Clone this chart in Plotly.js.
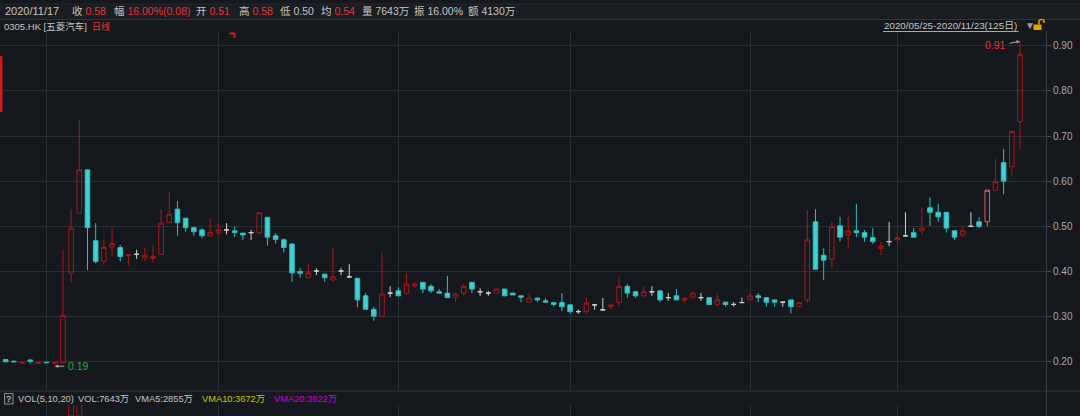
<!DOCTYPE html>
<html><head><meta charset="utf-8">
<script src="https://cdn.plot.ly/plotly-3.0.1.min.js"></script>
<style>html,body{margin:0;padding:0;background:#15181d;}#chart{width:1080px;height:416px;}</style>
</head><body><div id="chart"></div>
<script>
// ---- data (daily OHLC, 0305.HK, 2020/05/25 - 2020/11/23, 125 trading days) ----
const openP = [0.205,0.201,0.197,0.204,0.197,0.199,0.197,0.198,0.396,0.529,
0.625,0.468,0.423,0.454,0.453,0.435,0.438,0.430,0.429,0.438,
0.508,0.538,0.518,0.497,0.492,0.479,0.485,0.492,0.490,0.485,
0.486,0.486,0.520,0.479,0.470,0.461,0.400,0.386,0.401,0.394,
0.381,0.401,0.388,0.385,0.346,0.316,0.301,0.352,0.357,0.352,
0.368,0.376,0.367,0.355,0.352,0.343,0.352,0.376,0.355,0.352,
0.352,0.361,0.352,0.346,0.332,0.341,0.335,0.331,0.331,0.326,
0.311,0.311,0.326,0.315,0.322,0.331,0.367,0.355,0.346,0.355,
0.357,0.342,0.346,0.337,0.343,0.342,0.342,0.327,0.332,0.327,
0.331,0.337,0.346,0.342,0.337,0.332,0.337,0.322,0.337,0.510,
0.436,0.427,0.501,0.481,0.490,0.486,0.475,0.451,0.466,0.470,
0.479,0.486,0.490,0.541,0.531,0.531,0.490,0.481,0.500,0.510,
0.510,0.580,0.641,0.632,0.732];
const highP = [0.205,0.203,0.198,0.205,0.198,0.199,0.198,0.447,0.538,0.735,
0.625,0.507,0.470,0.497,0.459,0.438,0.448,0.453,0.459,0.538,
0.577,0.556,0.518,0.497,0.496,0.518,0.507,0.507,0.499,0.485,
0.492,0.532,0.520,0.485,0.473,0.461,0.408,0.417,0.407,0.394,
0.452,0.408,0.416,0.385,0.352,0.322,0.442,0.367,0.365,0.396,
0.377,0.376,0.372,0.361,0.390,0.352,0.372,0.376,0.363,0.357,
0.361,0.361,0.352,0.346,0.352,0.341,0.341,0.331,0.352,0.326,
0.316,0.342,0.327,0.341,0.326,0.391,0.372,0.355,0.367,0.367,
0.357,0.352,0.361,0.341,0.352,0.352,0.342,0.352,0.332,0.332,
0.342,0.352,0.352,0.342,0.337,0.332,0.337,0.331,0.536,0.538,
0.451,0.510,0.521,0.521,0.550,0.492,0.496,0.466,0.510,0.488,
0.531,0.496,0.541,0.564,0.550,0.531,0.490,0.499,0.531,0.520,
0.580,0.649,0.671,0.710,0.910];
const lowP = [0.200,0.198,0.195,0.196,0.195,0.198,0.190,0.195,0.375,0.529,
0.403,0.418,0.414,0.433,0.422,0.414,0.428,0.423,0.419,0.438,
0.508,0.479,0.488,0.479,0.473,0.477,0.482,0.482,0.476,0.470,
0.470,0.482,0.457,0.462,0.442,0.377,0.386,0.386,0.392,0.377,
0.377,0.392,0.386,0.321,0.316,0.291,0.301,0.343,0.346,0.348,
0.363,0.352,0.352,0.352,0.342,0.332,0.346,0.352,0.346,0.346,
0.352,0.346,0.348,0.332,0.332,0.332,0.332,0.322,0.312,0.307,
0.306,0.307,0.315,0.313,0.316,0.322,0.342,0.342,0.342,0.346,
0.332,0.335,0.337,0.331,0.343,0.335,0.327,0.322,0.322,0.322,
0.331,0.337,0.332,0.322,0.322,0.322,0.307,0.322,0.331,0.405,
0.381,0.407,0.466,0.451,0.476,0.466,0.461,0.436,0.456,0.470,
0.477,0.476,0.481,0.501,0.510,0.486,0.470,0.476,0.500,0.496,
0.500,0.580,0.571,0.610,0.671];
const closeP = [0.200,0.200,0.198,0.201,0.198,0.198,0.198,0.303,0.496,0.625,
0.497,0.422,0.453,0.462,0.433,0.437,0.438,0.436,0.433,0.507,
0.527,0.508,0.497,0.488,0.479,0.486,0.492,0.492,0.486,0.481,
0.486,0.530,0.476,0.471,0.453,0.397,0.396,0.397,0.401,0.386,
0.388,0.401,0.388,0.337,0.316,0.301,0.350,0.352,0.346,0.372,
0.372,0.361,0.357,0.352,0.342,0.350,0.367,0.361,0.355,0.352,
0.361,0.346,0.348,0.343,0.341,0.337,0.332,0.327,0.322,0.311,
0.311,0.330,0.326,0.315,0.326,0.367,0.352,0.346,0.355,0.355,
0.337,0.342,0.337,0.341,0.352,0.342,0.327,0.337,0.327,0.327,
0.331,0.346,0.342,0.332,0.332,0.332,0.322,0.331,0.470,0.405,
0.425,0.499,0.476,0.490,0.486,0.476,0.466,0.456,0.466,0.475,
0.479,0.476,0.496,0.531,0.521,0.496,0.476,0.490,0.500,0.500,
0.580,0.599,0.600,0.710,0.880];
const selectedIndex = 120;
const monthStarts = [5, 26, 48, 69, 91, 109];
const priceTicks = [0.2, 0.3, 0.4, 0.5, 0.6, 0.7, 0.8, 0.9];
const priceTickText = ['0.20','0.30','0.40','0.50','0.60','0.70','0.80','0.90'];
const volDays = [8, 9];
const volValues = [52000, 47000];
const lowMarkIndex = 6, lowMarkValue = 0.19, lowMarkText = '0.19';
const highMarkIndex = 124, highMarkValue = 0.91, highMarkText = '0.91';
const headerDate = '2020/11/17';
const headerLabels = ['收','幅','开','高','低','均','量','振','额'];
const headerValues = ['0.58','16.00%(0.08)','0.51','0.58','0.50','0.54','7643万','16.00%','4130万'];
const headerRed = [true,true,true,true,false,true,false,false,false];
const stockName = '0305.HK [五菱汽车]';
const periodName = '日线';
const dateRange = '2020/05/25-2020/11/23(125日)';
const volLabels = ['VOL(5,10,20)','VOL:7643万','VMA5:2855万','VMA10:3672万','VMA20:3822万'];

// ---- geometry helpers ----
const W = 1080, H = 416, PW = 1046;
const px = x => x / PW;
const py = y => (H - y) / H;
const FONT = 'Liberation Sans, Arial, Noto Sans CJK SC, sans-serif';
const GRAY = '#c4c4c4', RED = '#e83434', BG = '#15181d', GRID = '#2a2e35';

// ---- group candles ----
function group(pred) {
  const g = {x: [], open: [], high: [], low: [], close: []};
  openP.forEach((o, i) => {
    if (!pred(i)) return;
    g.x.push(i); g.open.push(o); g.high.push(highP[i]); g.low.push(lowP[i]); g.close.push(closeP[i]);
  });
  return g;
}
const upG = group(i => i !== selectedIndex && closeP[i] > openP[i]);
const dnG = group(i => i !== selectedIndex && closeP[i] < openP[i]);
const djG = group(i => i !== selectedIndex && closeP[i] === openP[i]);
const selG = group(i => i === selectedIndex);

function candle(g, lineCol, fillCol) {
  return Object.assign({
    type: 'candlestick', xaxis: 'x', yaxis: 'y', hoverinfo: 'skip', whiskerwidth: 0,
    increasing: {line: {color: lineCol, width: 1}, fillcolor: fillCol},
    decreasing: {line: {color: lineCol, width: 1}, fillcolor: fillCol},
    showlegend: false
  }, g);
}
const traces = [
  candle(upG, '#a81818', 'rgba(0,0,0,0)'),
  candle(dnG, '#33bcbc', '#40d2d2'),
  candle(djG, '#cfcfcf', '#cfcfcf'),
  candle(selG, '#e46464', 'rgba(0,0,0,0)'),
  {type: 'bar', x: volDays, y: volValues, xaxis: 'x2', yaxis: 'y2', width: 0.6,
   marker: {color: 'rgba(0,0,0,0)', line: {color: '#a81818', width: 1}}, hoverinfo: 'skip', showlegend: false}
];

// ---- annotations ----
const ann = [];
function txt(x, y, text, color, size, anchor) {
  ann.push({xref: 'paper', yref: 'paper', x: px(x), y: py(y), text: text, showarrow: false,
    xanchor: anchor || 'left', yanchor: 'middle', font: {family: FONT, size: size, color: color}});
}
txt(3, 11.5, headerDate, GRAY, 11);
const headerX = [70, 111.5, 194, 236.5, 277.5, 319, 359.5, 412, 466];
headerLabels.forEach((l, k) => {
  const v = headerRed[k] ? '<span style="color:' + RED + '">' + headerValues[k] + '</span>' : headerValues[k];
  txt(headerX[k], 11.5, l + ' ' + v, GRAY, 10.5);
});
txt(2, 27, stockName, GRAY, 9.5);
txt(90, 27, periodName, RED, 9);
txt(1018.5, 25, dateRange, GRAY, 9.8, 'right');
txt(1022.5, 25, '▼', '#9a9a9a', 10);
const volX = [16, 75.5, 133, 199.5, 271.5];
const volCol = [GRAY, GRAY, GRAY, '#c8c800', '#d400d4'];
volLabels.forEach((l, k) => txt(volX[k], 398.5, l, volCol[k], 9.3));
txt(8.6, 398.5, '?', '#e0e0e0', 9, 'center');
// high / low markers
ann.push({xref: 'x', yref: 'y', x: highMarkIndex, y: highMarkValue, ax: -12, ay: 2.5, text: '',
  showarrow: true, arrowhead: 2, arrowsize: 0.7, arrowwidth: 1, arrowcolor: '#a8a8a8', standoff: 0});
txt(1007.5, 45, highMarkText, RED, 10.5, 'right');
ann.push({xref: 'x', yref: 'y', x: lowMarkIndex, y: lowMarkValue, ax: 11, ay: 0, text: '',
  showarrow: true, arrowhead: 2, arrowsize: 0.7, arrowwidth: 1, arrowcolor: '#a8a8a8', standoff: 0});
txt(66, 366, lowMarkText, '#25a83c', 10.5);

// ---- shapes ----
const shapes = [
  {type: 'rect', xref: 'paper', yref: 'paper', x0: 0, x1: px(W), y0: py(19.5), y1: py(4), fillcolor: '#1a1d22', line: {width: 0}, layer: 'below'},
  {type: 'line', xref: 'paper', yref: 'paper', x0: 0, x1: px(W), y0: py(19.5), y1: py(19.5), line: {color: '#30343b', width: 1}},
  {type: 'line', xref: 'paper', yref: 'paper', x0: 0, x1: px(W), y0: py(4), y1: py(4), line: {color: '#24272d', width: 1}},
  {type: 'line', xref: 'paper', yref: 'paper', x0: 0, x1: px(W), y0: py(391), y1: py(391), line: {color: '#30343b', width: 1}},
  {type: 'line', xref: 'paper', yref: 'paper', x0: px(1046.5), x1: px(1046.5), y0: py(31), y1: py(416), line: {color: '#3a3e45', width: 1}},
  {type: 'rect', xref: 'paper', yref: 'paper', x0: 0, x1: px(2.5), y0: py(112), y1: py(56), fillcolor: '#cc1c1c', line: {width: 0}},
  {type: 'path', xref: 'paper', yref: 'paper', path: 'M' + px(229.5) + ',' + py(33.5) + ' L' + px(234.5) + ',' + py(33.5) + ' L' + px(234.5) + ',' + py(38), line: {color: '#d01818', width: 2}},
  {type: 'line', xref: 'paper', yref: 'paper', x0: px(883), x1: px(1018.5), y0: py(31.5), y1: py(31.5), line: {color: '#a8a8a8', width: 1}},
  {type: 'rect', xref: 'paper', yref: 'paper', x0: px(1033.5), x1: px(1041.5), y0: py(30), y1: py(24.5), fillcolor: '#e0a400', line: {width: 0}},
  {type: 'path', xref: 'paper', yref: 'paper', path: 'M' + px(1039) + ',' + py(24.5) + ' L' + px(1039) + ',' + py(21.5) + ' Q' + px(1039) + ',' + py(19.5) + ' ' + px(1041.5) + ',' + py(19.5) + ' Q' + px(1044) + ',' + py(19.5) + ' ' + px(1044) + ',' + py(21.5) + ' L' + px(1044) + ',' + py(23), line: {color: '#e0a400', width: 1.5}},
  {type: 'rect', xref: 'paper', yref: 'paper', x0: px(4.5), x1: px(13), y0: py(404), y1: py(393.5), fillcolor: '#1e2126', line: {color: '#8a8a8a', width: 1}}
];

const xRange = [-0.697, 127.18];
const layout = {
  width: W, height: H, margin: {l: 0, r: W - PW, t: 0, b: 0},
  paper_bgcolor: BG, plot_bgcolor: BG, showlegend: false, dragmode: false,
  boxgap: 0.2,
  xaxis: {domain: [0, 1], range: xRange, anchor: 'y', tickvals: monthStarts, showticklabels: false, ticks: '',
          showgrid: true, gridcolor: GRID, gridwidth: 1, zeroline: false, showline: false,
          rangeslider: {visible: false}, fixedrange: true},
  yaxis: {domain: [py(391), py(31)], range: [0.1352, 0.9326], side: 'right', anchor: 'x',
          tickvals: priceTicks, ticktext: priceTickText, showgrid: true, gridcolor: GRID, zeroline: false,
          showline: false, ticks: 'outside', ticklen: 4, tickcolor: '#4a4e55',
          tickfont: {family: FONT, size: 10, color: '#a8a8a8'}, fixedrange: true},
  xaxis2: {domain: [0, 1], range: xRange, anchor: 'y2', tickvals: monthStarts, showticklabels: false, ticks: '',
           showgrid: true, gridcolor: GRID, zeroline: false, showline: false, fixedrange: true},
  yaxis2: {domain: [0, py(405)], range: [0, 20000], side: 'right', anchor: 'x2', showgrid: false,
           showticklabels: false, ticks: '', zeroline: false, showline: false, fixedrange: true},
  annotations: ann, shapes: shapes
};
Plotly.newPlot('chart', traces, layout, {displayModeBar: false, staticPlot: true});
</script></body></html>
